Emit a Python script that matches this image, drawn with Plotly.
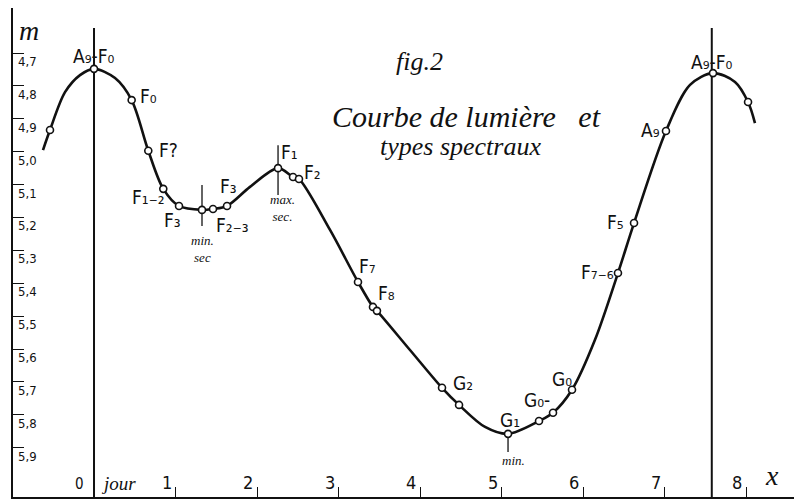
import plotly.graph_objects as go

# light curve (x in days, m = magnitude)
curve_x = [-0.626, -0.540, -0.356, -0.172, 0.0, 0.258, 0.462, 0.666, 0.850, 1.043,
           1.325, 1.460, 1.632, 1.914, 2.258, 2.442, 2.515, 2.896, 3.239, 3.423,
           3.472, 3.877, 4.270, 4.479, 4.798, 5.080, 5.460, 5.632, 5.865, 6.147,
           6.429, 6.626, 7.018, 7.313, 7.595, 7.865, 8.025, 8.110]
curve_m = [4.995, 4.934, 4.819, 4.767, 4.748, 4.776, 4.843, 4.997, 5.113, 5.165,
           5.177, 5.174, 5.165, 5.107, 5.050, 5.077, 5.083, 5.238, 5.396, 5.472,
           5.484, 5.603, 5.718, 5.770, 5.837, 5.858, 5.819, 5.794, 5.724, 5.572,
           5.369, 5.217, 4.937, 4.797, 4.761, 4.788, 4.849, 4.913]

# observed points (small circles)
obs_x = [-0.540, 0.0, 0.462, 0.666, 0.850, 1.043, 1.325, 1.460, 1.632, 2.258,
         2.442, 2.515, 3.239, 3.423, 3.472, 4.270, 4.479, 5.080, 5.460, 5.632,
         5.865, 6.429, 6.626, 7.018, 7.595, 8.025]
obs_m = [4.934, 4.748, 4.843, 4.997, 5.113, 5.165, 5.177, 5.174, 5.165, 5.050,
         5.077, 5.083, 5.396, 5.472, 5.484, 5.718, 5.770, 5.858, 5.819, 5.794,
         5.724, 5.369, 5.217, 4.937, 4.761, 4.849]

period_end = 7.58
m_ticks = [4.7, 4.8, 4.9, 5.0, 5.1, 5.2, 5.3, 5.4, 5.5, 5.6, 5.7, 5.8, 5.9]
m_tick_text = ["4,7", "4,8", "4,9", "5,0", "5,1", "5,2", "5,3", "5,4", "5,5",
               "5,6", "5,7", "5,8", "5,9"]
day_ticks = [1, 2, 3, 4, 5, 6, 7, 8]

# spectral types and their label anchors
spec_text = ["A₉-F₀", "F₀", "F?", "F₁₋₂", "F₃", "F₃", "F₂₋₃", "F₁", "F₂", "F₇", "F₈",
             "G₂", "G₁", "G₀-", "G₀", "F₇₋₆", "F₅", "A₉", "A₉-F₀"]
spec_x = [0.0, 0.663, 0.908, 0.663, 0.969, 1.644, 1.70, 2.393, 2.675, 3.350, 3.583,
          4.528, 5.104, 5.436, 5.742, 6.172, 6.393, 6.822, 7.58]
spec_m = [4.709, 4.831, 4.995, 5.138, 5.208, 5.104, 5.222, 5.001, 5.062, 5.347, 5.430,
          5.703, 5.816, 5.755, 5.691, 5.366, 5.214, 4.934, 4.727]

x_lo, x_hi = -0.994, 8.687
m_bottom, m_top = 6.05, 4.563

ink = "#111"
hand = "Liberation Sans Narrow, DejaVu Sans Condensed, Liberation Sans, sans-serif"

fig = go.Figure()

# the two maxima verticals
for xv in [0.0, period_end]:
    fig.add_trace(go.Scatter(x=[xv, xv], y=[4.624, m_bottom], mode="lines",
                             line=dict(color=ink, width=2), hoverinfo="skip"))

# short marks at secondary min, secondary max and main min
for xv, ya, yb in [(1.325, 5.101, 5.226), (2.258, 4.98, 5.132), (5.080, 5.858, 5.913)]:
    fig.add_trace(go.Scatter(x=[xv, xv], y=[ya, yb], mode="lines",
                             line=dict(color=ink, width=1.3), hoverinfo="skip"))

fig.add_trace(go.Scatter(x=curve_x, y=curve_m, mode="lines",
                         line=dict(color=ink, width=2.6, shape="spline", smoothing=0.9)))
fig.add_trace(go.Scatter(x=obs_x, y=obs_m, mode="markers",
                         marker=dict(symbol="circle", size=7, color="white",
                                     line=dict(color=ink, width=1.6))))

ann = []
for t, xv, mv in zip(spec_text, spec_x, spec_m):
    ann.append(dict(x=xv, y=mv, text=t, showarrow=False,
                    font=dict(family=hand, size=19, color=ink)))
ann.append(dict(x=1.33, y=5.295, text="min.<br>sec", showarrow=False,
                font=dict(family="Liberation Serif", size=13, color=ink, style="italic")))
ann.append(dict(x=2.307, y=5.171, text="max.<br>sec.", showarrow=False,
                font=dict(family="Liberation Serif", size=13, color=ink, style="italic")))
ann.append(dict(x=5.153, y=5.94, text="min.", showarrow=False,
                font=dict(family="Liberation Serif", size=13, color=ink, style="italic")))
ann.append(dict(x=-0.798, y=4.63, text="m", showarrow=False,
                font=dict(family="Liberation Serif", size=28, color=ink, style="italic")))

# magnitude labels under their ticks
for v, t in zip(m_ticks, m_tick_text):
    ann.append(dict(xref="paper", x=0, y=v, text=t, showarrow=False,
                    xanchor="left", yanchor="top", xshift=3, yshift=1,
                    font=dict(family=hand, size=13, color=ink)))
# day labels left of their ticks
for d in day_ticks:
    ann.append(dict(x=d, yref="paper", y=0, text=str(d), showarrow=False,
                    xanchor="right", yanchor="bottom", xshift=-2, yshift=2,
                    font=dict(family=hand, size=18, color=ink)))
ann.append(dict(x=0, yref="paper", y=0, text="0", showarrow=False,
                xanchor="right", yanchor="bottom", xshift=-8, yshift=2,
                font=dict(family=hand, size=15, color=ink)))
ann.append(dict(x=0, yref="paper", y=0, text="jour", showarrow=False,
                xanchor="left", yanchor="bottom", xshift=5, yshift=1,
                font=dict(family="Liberation Serif", size=19, color=ink, style="italic")))
ann.append(dict(x=8.32, yref="paper", y=0, text="x", showarrow=False,
                xanchor="center", yanchor="bottom", yshift=4,
                font=dict(family="Liberation Serif", size=28, color=ink, style="italic")))

# title
title_font = dict(family="Liberation Serif", color=ink, style="italic")
ann.append(dict(xref="paper", yref="paper", x=0.515, y=0.925, text="fig.2", showarrow=False,
                font=dict(size=26, **title_font)))
ann.append(dict(xref="paper", yref="paper", x=0.575, y=0.815,
                text="Courbe de lumière&nbsp;&nbsp;&nbsp;et", showarrow=False,
                font=dict(size=30, **title_font)))
ann.append(dict(xref="paper", yref="paper", x=0.567, y=0.75, text="types spectraux",
                showarrow=False, font=dict(size=26, **title_font)))

# page body adds an 8px offset, so the figure is 8px smaller in each direction
fig.update_layout(
    width=794, height=491,
    margin=dict(l=5, r=0, t=0, b=2),
    paper_bgcolor="white", plot_bgcolor="white",
    showlegend=False,
    annotations=ann,
    xaxis=dict(range=[x_lo, x_hi], showgrid=False, zeroline=False,
               showline=True, linecolor=ink, linewidth=2,
               tickvals=day_ticks, ticks="inside", ticklen=10, tickwidth=1.3,
               tickcolor=ink, showticklabels=False),
    yaxis=dict(range=[m_bottom, m_top], showgrid=False, zeroline=False,
               showline=True, linecolor=ink, linewidth=2,
               tickvals=m_ticks, ticks="inside", ticklen=11, tickwidth=1.3,
               tickcolor=ink, showticklabels=False),
)

fig.write_html("out.html")
